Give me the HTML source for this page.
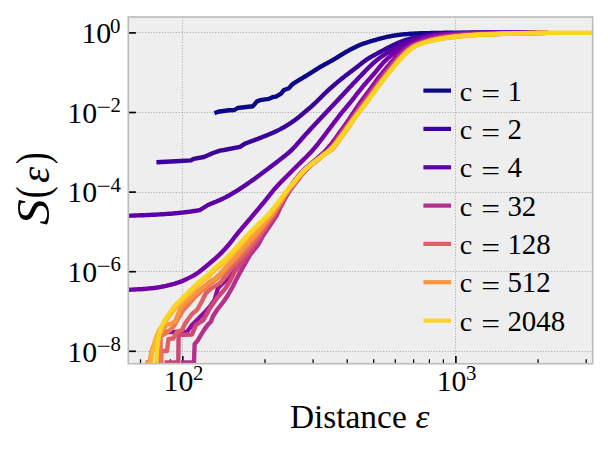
<!DOCTYPE html>
<html><head><meta charset="utf-8"><title>S(eps)</title>
<style>
html,body{margin:0;padding:0;background:#fff;}
body{width:608px;height:450px;overflow:hidden;}
svg{display:block;}
text{font-family:"Liberation Serif","DejaVu Serif",serif;fill:#000;}
.it{font-style:italic;}
</style></head><body>
<svg width="608" height="450" viewBox="0 0 608 450">
<rect width="608" height="450" fill="#ffffff"/>
<rect x="128.3" y="17.0" width="464.40000000000003" height="346.7" fill="#eeeeee"/>
<defs><clipPath id="ax"><rect x="128.3" y="17.0" width="464.40000000000003" height="346.7"/></clipPath></defs>
<g stroke="#a8a8a8" stroke-width="1.0" stroke-dasharray="1.05 1.75" fill="none"><line x1="182.5" y1="17.0" x2="182.5" y2="363.7"/><line x1="455.5" y1="17.0" x2="455.5" y2="363.7"/><line x1="128.3" y1="32.5" x2="592.7" y2="32.5"/><line x1="128.3" y1="112.5" x2="592.7" y2="112.5"/><line x1="128.3" y1="192.5" x2="592.7" y2="192.5"/><line x1="128.3" y1="271.5" x2="592.7" y2="271.5"/><line x1="128.3" y1="351.5" x2="592.7" y2="351.5"/></g>
<g stroke="#000" stroke-width="1.65"><line x1="128.3" y1="32.9" x2="135.9" y2="32.9"/><line x1="128.3" y1="112.5" x2="135.9" y2="112.5"/><line x1="128.3" y1="192.1" x2="135.9" y2="192.1"/><line x1="128.3" y1="271.7" x2="135.9" y2="271.7"/><line x1="128.3" y1="351.3" x2="135.9" y2="351.3"/><line x1="182.8" y1="363.7" x2="182.8" y2="356.09999999999997"/><line x1="455.9" y1="363.7" x2="455.9" y2="356.09999999999997"/></g>
<g stroke="#000" stroke-width="1.25"><line x1="140.5" y1="363.7" x2="140.5" y2="359.3"/><line x1="156.3" y1="363.7" x2="156.3" y2="359.3"/><line x1="170.3" y1="363.7" x2="170.3" y2="359.3"/><line x1="265.0" y1="363.7" x2="265.0" y2="359.3"/><line x1="313.1" y1="363.7" x2="313.1" y2="359.3"/><line x1="347.2" y1="363.7" x2="347.2" y2="359.3"/><line x1="373.7" y1="363.7" x2="373.7" y2="359.3"/><line x1="395.3" y1="363.7" x2="395.3" y2="359.3"/><line x1="413.6" y1="363.7" x2="413.6" y2="359.3"/><line x1="429.4" y1="363.7" x2="429.4" y2="359.3"/><line x1="443.4" y1="363.7" x2="443.4" y2="359.3"/><line x1="538.1" y1="363.7" x2="538.1" y2="359.3"/><line x1="586.2" y1="363.7" x2="586.2" y2="359.3"/></g>
<g clip-path="url(#ax)" fill="none" stroke-width="4.4" stroke-linejoin="round" stroke-linecap="butt">
<path d="M214.4,113.2 L218.0,111.8 L229.0,110.2 L234.4,110.0 L237.6,108.0 L244.0,107.2 L253.0,106.2 L257.0,101.4 L260.0,100.2 L269.0,98.8 L273.0,97.0 L276.0,96.6 L281.0,93.6 L284.0,90.0 L289.0,88.2 L292.0,84.6 L293.0,83.9 L294.0,83.2 L295.0,82.6 L296.0,81.9 L297.0,81.3 L298.0,80.7 L299.0,80.1 L300.0,79.5 L301.0,78.9 L302.0,78.3 L303.0,77.7 L304.0,77.1 L305.0,76.5 L306.0,75.9 L307.0,75.3 L308.0,74.7 L309.0,74.0 L310.0,73.4 L311.0,72.8 L312.0,72.2 L313.0,71.5 L314.0,70.9 L315.0,70.2 L316.0,69.6 L317.0,69.0 L318.0,68.3 L319.0,67.7 L320.0,67.1 L321.0,66.5 L322.0,66.0 L323.0,65.4 L324.0,64.8 L325.0,64.3 L326.0,63.8 L327.0,63.2 L328.0,62.7 L329.0,62.1 L330.0,61.6 L331.0,61.0 L332.0,60.5 L333.0,59.9 L334.0,59.3 L335.0,58.7 L336.0,58.1 L337.0,57.5 L338.0,56.9 L339.0,56.2 L340.0,55.6 L341.0,55.0 L342.0,54.4 L343.0,53.8 L344.0,53.2 L345.0,52.6 L346.0,52.0 L347.0,51.4 L348.0,50.9 L349.0,50.3 L350.0,49.7 L351.0,49.2 L352.0,48.7 L353.0,48.2 L354.0,47.7 L355.0,47.2 L356.0,46.7 L357.0,46.2 L358.0,45.8 L359.0,45.4 L360.0,44.9 L361.0,44.5 L362.0,44.2 L363.0,43.8 L364.0,43.4 L365.0,43.1 L366.0,42.8 L367.0,42.5 L368.0,42.1 L369.0,41.8 L370.0,41.5 L371.0,41.2 L372.0,40.9 L373.0,40.7 L374.0,40.4 L375.0,40.1 L376.0,39.8 L377.0,39.5 L378.0,39.2 L379.0,39.0 L380.0,38.7 L381.0,38.4 L382.0,38.1 L383.0,37.9 L384.0,37.6 L385.0,37.4 L386.0,37.1 L387.0,36.9 L388.0,36.7 L389.0,36.5 L390.0,36.3 L391.0,36.1 L392.0,35.9 L393.0,35.7 L394.0,35.6 L395.0,35.4 L396.0,35.3 L397.0,35.1 L398.0,35.0 L399.0,34.9 L400.0,34.7 L401.0,34.6 L402.0,34.5 L403.0,34.4 L404.0,34.3 L405.0,34.2 L406.0,34.1 L407.0,34.1 L408.0,34.0 L409.0,33.9 L410.0,33.8 L411.0,33.8 L412.0,33.7 L413.0,33.6 L414.0,33.6 L415.0,33.5 L416.0,33.5 L417.0,33.4 L418.0,33.4 L419.0,33.4 L420.0,33.3 L421.0,33.3 L422.0,33.3 L423.0,33.2 L424.0,33.2 L425.0,33.2 L426.0,33.2 L427.0,33.1 L428.0,33.1 L429.0,33.1 L430.0,33.1 L431.0,33.0 L432.0,33.0 L433.0,33.0 L434.0,33.0 L435.0,33.0 L436.0,33.0 L437.0,32.9 L438.0,32.9 L439.0,32.9 L440.0,32.9 L441.0,32.9 L442.0,32.9 L443.0,32.9 L444.0,32.8 L445.0,32.8 L446.0,32.8 L447.0,32.8 L448.0,32.8 L449.0,32.8 L450.0,32.8 L451.0,32.8 L452.0,32.8 L453.0,32.7 L454.0,32.7 L455.0,32.7 L456.0,32.7 L457.0,32.7 L458.0,32.7 L459.0,32.7 L460.0,32.7 L461.0,32.7 L462.0,32.7 L463.0,32.7 L464.0,32.7 L465.0,32.7 L466.0,32.7 L467.0,32.7 L468.0,32.7 L469.0,32.7 L470.0,32.7 L471.0,32.7 L472.0,32.7 L473.0,32.7 L474.0,32.7 L475.0,32.7 L476.0,32.7 L477.0,32.7 L478.0,32.7 L479.0,32.7 L480.0,32.7 L481.0,32.7 L482.0,32.7 L483.0,32.7 L484.0,32.7 L485.0,32.7 L486.0,32.7 L487.0,32.7 L488.0,32.7 L489.0,32.7 L490.0,32.7 L491.0,32.7 L492.0,32.7 L493.0,32.7 L494.0,32.7 L495.0,32.7 L496.0,32.7 L497.0,32.7 L498.0,32.7 L499.0,32.7 L500.0,32.7 L501.0,32.7 L502.0,32.7 L503.0,32.7 L504.0,32.7 L505.0,32.7 L506.0,32.7 L507.0,32.7 L508.0,32.7 L509.0,32.7 L510.0,32.7 L511.0,32.7 L512.0,32.7 L513.0,32.7 L514.0,32.7 L515.0,32.7 L516.0,32.7 L517.0,32.7 L518.0,32.7 L519.0,32.7 L520.0,32.7 L521.0,32.7 L522.0,32.7 L523.0,32.7 L524.0,32.7 L525.0,32.7 L526.0,32.7 L527.0,32.7 L528.0,32.7 L529.0,32.7 L530.0,32.7 L531.0,32.7 L532.0,32.7 L533.0,32.7 L534.0,32.7 L535.0,32.7 L536.0,32.7 L537.0,32.7 L538.0,32.7 L539.0,32.7 L540.0,32.7 L541.0,32.7 L542.0,32.7 L543.0,32.7 L544.0,32.7 L545.0,32.7 L546.0,32.7 L547.0,32.7 L548.0,32.7" stroke="#0d0887"/>
<path d="M156.4,162.2 L176.0,161.2 L191.0,160.4 L193.6,158.8 L204.0,157.0 L213.0,153.0 L220.0,150.6 L224.0,150.0 L240.0,146.8 L245.0,143.6 L246.0,143.2 L247.0,142.8 L248.0,142.5 L249.0,142.1 L250.0,141.7 L251.0,141.4 L252.0,141.0 L253.0,140.6 L254.0,140.3 L255.0,139.9 L256.0,139.5 L257.0,139.1 L258.0,138.8 L259.0,138.4 L260.0,138.0 L261.0,137.6 L262.0,137.2 L263.0,136.8 L264.0,136.4 L265.0,136.0 L266.0,135.6 L267.0,135.2 L268.0,134.8 L269.0,134.4 L270.0,134.0 L271.0,133.5 L272.0,133.1 L273.0,132.7 L274.0,132.2 L275.0,131.8 L276.0,131.3 L277.0,130.9 L278.0,130.4 L279.0,129.9 L280.0,129.4 L281.0,128.8 L282.0,128.3 L283.0,127.7 L284.0,127.2 L285.0,126.6 L286.0,126.0 L287.0,125.3 L288.0,124.7 L289.0,124.1 L290.0,123.4 L291.0,122.8 L292.0,122.1 L293.0,121.4 L294.0,120.7 L295.0,120.0 L296.0,119.2 L297.0,118.5 L298.0,117.7 L299.0,116.9 L300.0,116.1 L301.0,115.3 L302.0,114.4 L303.0,113.6 L304.0,112.7 L305.0,111.9 L306.0,111.0 L307.0,110.2 L308.0,109.3 L309.0,108.5 L310.0,107.7 L311.0,106.8 L312.0,105.9 L313.0,105.0 L314.0,104.1 L315.0,103.2 L316.0,102.2 L317.0,101.2 L318.0,100.2 L319.0,99.2 L320.0,98.2 L321.0,97.2 L322.0,96.2 L323.0,95.2 L324.0,94.2 L325.0,93.3 L326.0,92.3 L327.0,91.4 L328.0,90.5 L329.0,89.5 L330.0,88.6 L331.0,87.8 L332.0,86.9 L333.0,86.0 L334.0,85.1 L335.0,84.3 L336.0,83.4 L337.0,82.6 L338.0,81.7 L339.0,80.9 L340.0,80.1 L341.0,79.3 L342.0,78.5 L343.0,77.7 L344.0,76.9 L345.0,76.1 L346.0,75.3 L347.0,74.6 L348.0,73.8 L349.0,73.1 L350.0,72.3 L351.0,71.6 L352.0,70.8 L353.0,70.1 L354.0,69.3 L355.0,68.5 L356.0,67.8 L357.0,67.0 L358.0,66.2 L359.0,65.4 L360.0,64.6 L361.0,63.8 L362.0,63.1 L363.0,62.3 L364.0,61.5 L365.0,60.8 L366.0,60.1 L367.0,59.4 L368.0,58.7 L369.0,58.1 L370.0,57.5 L371.0,56.9 L372.0,56.3 L373.0,55.7 L374.0,55.2 L375.0,54.7 L376.0,54.1 L377.0,53.6 L378.0,53.0 L379.0,52.5 L380.0,52.0 L381.0,51.5 L382.0,50.9 L383.0,50.4 L384.0,49.9 L385.0,49.3 L386.0,48.8 L387.0,48.3 L388.0,47.7 L389.0,47.2 L390.0,46.7 L391.0,46.2 L392.0,45.7 L393.0,45.2 L394.0,44.7 L395.0,44.3 L396.0,43.8 L397.0,43.4 L398.0,42.9 L399.0,42.5 L400.0,42.1 L401.0,41.7 L402.0,41.3 L403.0,40.9 L404.0,40.6 L405.0,40.2 L406.0,39.9 L407.0,39.6 L408.0,39.3 L409.0,39.0 L410.0,38.7 L411.0,38.4 L412.0,38.2 L413.0,37.9 L414.0,37.7 L415.0,37.4 L416.0,37.2 L417.0,37.0 L418.0,36.8 L419.0,36.6 L420.0,36.4 L421.0,36.2 L422.0,36.0 L423.0,35.9 L424.0,35.7 L425.0,35.6 L426.0,35.4 L427.0,35.3 L428.0,35.2 L429.0,35.0 L430.0,34.9 L431.0,34.8 L432.0,34.7 L433.0,34.6 L434.0,34.5 L435.0,34.4 L436.0,34.3 L437.0,34.2 L438.0,34.2 L439.0,34.1 L440.0,34.0 L441.0,34.0 L442.0,33.9 L443.0,33.8 L444.0,33.8 L445.0,33.7 L446.0,33.7 L447.0,33.6 L448.0,33.6 L449.0,33.5 L450.0,33.5 L451.0,33.4 L452.0,33.4 L453.0,33.3 L454.0,33.3 L455.0,33.3 L456.0,33.2 L457.0,33.2 L458.0,33.2 L459.0,33.1 L460.0,33.1 L461.0,33.1 L462.0,33.0 L463.0,33.0 L464.0,33.0 L465.0,33.0 L466.0,32.9 L467.0,32.9 L468.0,32.9 L469.0,32.9 L470.0,32.8 L471.0,32.8 L472.0,32.8 L473.0,32.8 L474.0,32.8 L475.0,32.8 L476.0,32.7 L477.0,32.7 L478.0,32.7 L479.0,32.7 L480.0,32.7 L481.0,32.7 L482.0,32.7 L483.0,32.7 L484.0,32.7 L485.0,32.7 L486.0,32.7 L487.0,32.7 L488.0,32.7 L489.0,32.7 L490.0,32.7 L491.0,32.7 L492.0,32.7 L493.0,32.7 L494.0,32.7 L495.0,32.7 L496.0,32.7 L497.0,32.7 L498.0,32.7 L499.0,32.7 L500.0,32.7 L501.0,32.7 L502.0,32.7 L503.0,32.7 L504.0,32.7 L505.0,32.7 L506.0,32.7 L507.0,32.7 L508.0,32.7 L509.0,32.7 L510.0,32.7 L511.0,32.7 L512.0,32.7 L513.0,32.7 L514.0,32.7 L515.0,32.7 L516.0,32.7 L517.0,32.7 L518.0,32.7 L519.0,32.7 L520.0,32.7 L521.0,32.7 L522.0,32.7 L523.0,32.7 L524.0,32.7 L525.0,32.7 L526.0,32.7 L527.0,32.7 L528.0,32.7 L529.0,32.7 L530.0,32.7 L531.0,32.7 L532.0,32.7 L533.0,32.7 L534.0,32.7 L535.0,32.7 L536.0,32.7 L537.0,32.7 L538.0,32.7 L539.0,32.7 L540.0,32.7 L541.0,32.7 L542.0,32.7 L543.0,32.7 L544.0,32.7 L545.0,32.7 L546.0,32.7 L547.0,32.7 L548.0,32.7" stroke="#3a049a"/>
<path d="M127.0,215.7 L128.0,215.7 L129.0,215.7 L130.0,215.6 L131.0,215.6 L132.0,215.6 L133.0,215.6 L134.0,215.5 L135.0,215.5 L136.0,215.5 L137.0,215.4 L138.0,215.4 L139.0,215.4 L140.0,215.3 L141.0,215.3 L142.0,215.3 L143.0,215.2 L144.0,215.2 L145.0,215.1 L146.0,215.1 L147.0,215.0 L148.0,215.0 L149.0,215.0 L150.0,214.9 L151.0,214.9 L152.0,214.8 L153.0,214.8 L154.0,214.7 L155.0,214.7 L156.0,214.6 L157.0,214.6 L158.0,214.5 L159.0,214.4 L160.0,214.4 L161.0,214.3 L162.0,214.3 L163.0,214.2 L164.0,214.1 L165.0,214.1 L166.0,214.0 L167.0,213.9 L168.0,213.9 L169.0,213.8 L170.0,213.7 L171.0,213.7 L172.0,213.6 L173.0,213.5 L174.0,213.4 L175.0,213.3 L176.0,213.2 L177.0,213.1 L178.0,213.0 L179.0,212.9 L180.0,212.8 L181.0,212.7 L182.0,212.6 L183.0,212.5 L184.0,212.4 L185.0,212.3 L186.0,212.2 L187.0,212.0 L188.0,211.9 L189.0,211.8 L190.0,211.6 L191.0,211.5 L192.0,211.3 L193.0,211.2 L194.0,211.0 L195.0,210.9 L196.0,210.7 L197.0,210.6 L198.0,210.4 L199.0,210.2 L200.0,210.0 L208.0,205.0 L209.0,204.6 L210.0,204.1 L211.0,203.7 L212.0,203.3 L213.0,202.9 L214.0,202.5 L215.0,202.1 L216.0,201.7 L217.0,201.3 L218.0,200.8 L219.0,200.4 L220.0,200.0 L221.0,199.5 L222.0,199.0 L223.0,198.6 L224.0,198.1 L225.0,197.6 L226.0,197.1 L227.0,196.5 L228.0,196.0 L229.0,195.5 L230.0,194.9 L231.0,194.3 L232.0,193.7 L233.0,193.1 L234.0,192.5 L235.0,191.9 L236.0,191.3 L237.0,190.7 L238.0,190.1 L239.0,189.4 L240.0,188.8 L241.0,188.1 L242.0,187.5 L243.0,186.8 L244.0,186.1 L245.0,185.5 L246.0,184.8 L247.0,184.1 L248.0,183.4 L249.0,182.7 L250.0,182.0 L251.0,181.3 L252.0,180.6 L253.0,179.9 L254.0,179.2 L255.0,178.5 L256.0,177.7 L257.0,177.0 L258.0,176.3 L259.0,175.5 L260.0,174.8 L261.0,174.0 L262.0,173.3 L263.0,172.5 L264.0,171.8 L265.0,171.0 L266.0,170.3 L267.0,169.5 L268.0,168.8 L269.0,168.0 L270.0,167.3 L271.0,166.5 L272.0,165.7 L273.0,165.0 L274.0,164.2 L275.0,163.5 L276.0,162.7 L277.0,161.9 L278.0,161.2 L279.0,160.4 L280.0,159.6 L281.0,158.9 L282.0,158.1 L283.0,157.3 L284.0,156.5 L285.0,155.8 L286.0,154.9 L287.0,154.1 L288.0,153.3 L289.0,152.4 L290.0,151.5 L291.0,150.6 L292.0,149.6 L293.0,148.6 L294.0,147.5 L295.0,146.5 L296.0,145.4 L297.0,144.2 L298.0,143.1 L299.0,142.0 L300.0,140.8 L301.0,139.7 L302.0,138.5 L303.0,137.4 L304.0,136.3 L305.0,135.2 L306.0,134.1 L307.0,133.0 L308.0,131.9 L309.0,130.8 L310.0,129.7 L311.0,128.6 L312.0,127.6 L313.0,126.5 L314.0,125.4 L315.0,124.3 L316.0,123.3 L317.0,122.2 L318.0,121.1 L319.0,120.1 L320.0,119.0 L321.0,117.9 L322.0,116.9 L323.0,115.8 L324.0,114.8 L325.0,113.7 L326.0,112.6 L327.0,111.6 L328.0,110.5 L329.0,109.4 L330.0,108.4 L331.0,107.3 L332.0,106.3 L333.0,105.2 L334.0,104.1 L335.0,103.1 L336.0,102.0 L337.0,100.9 L338.0,99.9 L339.0,98.8 L340.0,97.7 L341.0,96.6 L342.0,95.6 L343.0,94.5 L344.0,93.4 L345.0,92.3 L346.0,91.3 L347.0,90.2 L348.0,89.1 L349.0,88.1 L350.0,87.0 L351.0,86.0 L352.0,84.9 L353.0,83.8 L354.0,82.8 L355.0,81.7 L356.0,80.7 L357.0,79.6 L358.0,78.6 L359.0,77.5 L360.0,76.5 L361.0,75.5 L362.0,74.4 L363.0,73.4 L364.0,72.4 L365.0,71.3 L366.0,70.3 L367.0,69.3 L368.0,68.3 L369.0,67.3 L370.0,66.3 L371.0,65.3 L372.0,64.4 L373.0,63.4 L374.0,62.5 L375.0,61.7 L376.0,60.8 L377.0,60.0 L378.0,59.2 L379.0,58.4 L380.0,57.7 L381.0,57.0 L382.0,56.3 L383.0,55.6 L384.0,55.0 L385.0,54.3 L386.0,53.7 L387.0,53.1 L388.0,52.5 L389.0,51.9 L390.0,51.3 L391.0,50.7 L392.0,50.1 L393.0,49.5 L394.0,49.0 L395.0,48.4 L396.0,47.9 L397.0,47.3 L398.0,46.8 L399.0,46.3 L400.0,45.7 L401.0,45.2 L402.0,44.7 L403.0,44.2 L404.0,43.8 L405.0,43.3 L406.0,42.8 L407.0,42.4 L408.0,41.9 L409.0,41.5 L410.0,41.1 L411.0,40.7 L412.0,40.4 L413.0,40.0 L414.0,39.6 L415.0,39.3 L416.0,39.0 L417.0,38.7 L418.0,38.4 L419.0,38.1 L420.0,37.8 L421.0,37.5 L422.0,37.3 L423.0,37.0 L424.0,36.8 L425.0,36.6 L426.0,36.4 L427.0,36.2 L428.0,36.0 L429.0,35.8 L430.0,35.7 L431.0,35.5 L432.0,35.4 L433.0,35.2 L434.0,35.1 L435.0,35.0 L436.0,34.9 L437.0,34.7 L438.0,34.6 L439.0,34.5 L440.0,34.4 L441.0,34.4 L442.0,34.3 L443.0,34.2 L444.0,34.1 L445.0,34.1 L446.0,34.0 L447.0,33.9 L448.0,33.9 L449.0,33.8 L450.0,33.7 L451.0,33.7 L452.0,33.6 L453.0,33.6 L454.0,33.5 L455.0,33.5 L456.0,33.5 L457.0,33.4 L458.0,33.4 L459.0,33.3 L460.0,33.3 L461.0,33.3 L462.0,33.3 L463.0,33.2 L464.0,33.2 L465.0,33.2 L466.0,33.2 L467.0,33.1 L468.0,33.1 L469.0,33.1 L470.0,33.1 L471.0,33.0 L472.0,33.0 L473.0,33.0 L474.0,33.0 L475.0,33.0 L476.0,33.0 L477.0,32.9 L478.0,32.9 L479.0,32.9 L480.0,32.9 L481.0,32.9 L482.0,32.9 L483.0,32.9 L484.0,32.8 L485.0,32.8 L486.0,32.8 L487.0,32.8 L488.0,32.8 L489.0,32.8 L490.0,32.8 L491.0,32.8 L492.0,32.8 L493.0,32.7 L494.0,32.7 L495.0,32.7 L496.0,32.7 L497.0,32.7 L498.0,32.7 L499.0,32.7 L500.0,32.7 L501.0,32.7 L502.0,32.7 L503.0,32.7 L504.0,32.7 L505.0,32.7 L506.0,32.7 L507.0,32.7 L508.0,32.7 L509.0,32.7 L510.0,32.7 L511.0,32.7 L512.0,32.7 L513.0,32.7 L514.0,32.7 L515.0,32.7 L516.0,32.7 L517.0,32.7 L518.0,32.7 L519.0,32.7 L520.0,32.7 L521.0,32.7 L522.0,32.7 L523.0,32.7 L524.0,32.7 L525.0,32.7 L526.0,32.7 L527.0,32.7 L528.0,32.7 L529.0,32.7 L530.0,32.7 L531.0,32.7 L532.0,32.7 L533.0,32.7 L534.0,32.7 L535.0,32.7 L536.0,32.7 L537.0,32.7 L538.0,32.7 L539.0,32.7 L540.0,32.7 L541.0,32.7 L542.0,32.7 L543.0,32.7 L544.0,32.7 L545.0,32.7 L546.0,32.7 L547.0,32.7 L548.0,32.7" stroke="#5c01a6"/>
<path d="M127.0,289.7 L128.0,289.7 L129.0,289.7 L130.0,289.7 L131.0,289.6 L132.0,289.6 L133.0,289.6 L134.0,289.5 L135.0,289.5 L136.0,289.4 L137.0,289.4 L138.0,289.3 L139.0,289.3 L140.0,289.2 L141.0,289.2 L142.0,289.1 L143.0,289.0 L144.0,289.0 L145.0,288.9 L146.0,288.8 L147.0,288.7 L148.0,288.6 L149.0,288.5 L150.0,288.4 L151.0,288.3 L152.0,288.2 L153.0,288.1 L154.0,288.0 L155.0,287.9 L156.0,287.7 L157.0,287.6 L158.0,287.4 L159.0,287.2 L160.0,287.1 L161.0,286.9 L162.0,286.7 L163.0,286.5 L164.0,286.3 L165.0,286.1 L166.0,285.9 L167.0,285.6 L168.0,285.4 L169.0,285.2 L170.0,284.9 L171.0,284.7 L172.0,284.4 L173.0,284.1 L174.0,283.9 L175.0,283.6 L176.0,283.2 L177.0,282.9 L178.0,282.6 L179.0,282.2 L180.0,281.9 L181.0,281.5 L182.0,281.1 L183.0,280.7 L184.0,280.2 L185.0,279.8 L186.0,279.4 L187.0,278.9 L188.0,278.4 L189.0,277.9 L190.0,277.4 L191.0,276.9 L192.0,276.4 L193.0,275.9 L194.0,275.3 L195.0,274.7 L196.0,274.0 L197.0,273.4 L198.0,272.7 L199.0,272.0 L200.0,271.2 L201.0,270.4 L202.0,269.6 L203.0,268.8 L204.0,268.0 L205.0,267.2 L206.0,266.4 L207.0,265.5 L208.0,264.7 L209.0,263.9 L210.0,263.0 L211.0,262.2 L212.0,261.3 L213.0,260.5 L214.0,259.6 L215.0,258.8 L216.0,257.9 L217.0,257.0 L218.0,256.0 L219.0,255.1 L220.0,254.1 L221.0,253.1 L222.0,252.1 L223.0,251.1 L224.0,250.0 L225.0,248.9 L226.0,247.8 L227.0,246.7 L228.0,245.6 L229.0,244.4 L230.0,243.2 L231.0,241.9 L232.0,240.6 L233.0,239.3 L234.0,238.0 L235.0,236.7 L236.0,235.5 L237.0,234.2 L238.0,233.0 L239.0,231.7 L240.0,230.5 L241.0,229.4 L242.0,228.2 L243.0,227.0 L244.0,225.8 L245.0,224.7 L246.0,223.5 L247.0,222.3 L248.0,221.2 L249.0,220.0 L250.0,218.8 L251.0,217.6 L252.0,216.4 L253.0,215.2 L254.0,214.1 L255.0,212.9 L256.0,211.7 L257.0,210.5 L258.0,209.3 L259.0,208.1 L260.0,206.9 L261.0,205.7 L262.0,204.5 L263.0,203.3 L264.0,202.1 L265.0,200.8 L266.0,199.6 L267.0,198.3 L268.0,197.1 L269.0,195.8 L270.0,194.6 L271.0,193.3 L272.0,192.1 L273.0,190.9 L274.0,189.7 L275.0,188.5 L276.0,187.4 L277.0,186.3 L278.0,185.2 L279.0,184.1 L280.0,183.1 L281.0,182.0 L282.0,181.0 L283.0,180.0 L284.0,179.0 L285.0,178.0 L286.0,177.0 L287.0,176.0 L288.0,175.0 L289.0,174.0 L290.0,173.0 L291.0,172.0 L292.0,171.0 L293.0,170.0 L294.0,169.0 L295.0,168.0 L296.0,167.0 L297.0,166.0 L298.0,165.0 L299.0,164.0 L300.0,163.1 L301.0,162.1 L302.0,161.1 L303.0,160.1 L304.0,159.1 L305.0,158.2 L306.0,157.2 L307.0,156.2 L308.0,155.1 L309.0,154.1 L310.0,153.1 L311.0,152.0 L312.0,150.9 L313.0,149.8 L314.0,148.6 L315.0,147.4 L316.0,146.3 L317.0,145.0 L318.0,143.8 L319.0,142.5 L320.0,141.2 L321.0,139.9 L322.0,138.6 L323.0,137.3 L324.0,136.0 L325.0,134.7 L326.0,133.3 L327.0,132.0 L328.0,130.7 L329.0,129.3 L330.0,128.0 L331.0,126.7 L332.0,125.3 L333.0,124.0 L334.0,122.7 L335.0,121.4 L336.0,120.1 L337.0,118.8 L338.0,117.5 L339.0,116.2 L340.0,114.9 L341.0,113.6 L342.0,112.4 L343.0,111.2 L344.0,110.0 L345.0,108.8 L346.0,107.6 L347.0,106.4 L348.0,105.2 L349.0,104.0 L350.0,102.8 L351.0,101.5 L352.0,100.3 L353.0,99.0 L354.0,97.8 L355.0,96.5 L356.0,95.2 L357.0,93.9 L358.0,92.6 L359.0,91.4 L360.0,90.1 L361.0,88.9 L362.0,87.6 L363.0,86.4 L364.0,85.2 L365.0,84.0 L366.0,82.9 L367.0,81.7 L368.0,80.6 L369.0,79.5 L370.0,78.4 L371.0,77.2 L372.0,76.1 L373.0,74.9 L374.0,73.8 L375.0,72.6 L376.0,71.4 L377.0,70.1 L378.0,68.9 L379.0,67.7 L380.0,66.5 L381.0,65.3 L382.0,64.2 L383.0,63.1 L384.0,62.0 L385.0,61.0 L386.0,60.0 L387.0,59.1 L388.0,58.2 L389.0,57.3 L390.0,56.4 L391.0,55.6 L392.0,54.8 L393.0,54.0 L394.0,53.3 L395.0,52.5 L396.0,51.8 L397.0,51.1 L398.0,50.4 L399.0,49.8 L400.0,49.1 L401.0,48.5 L402.0,47.9 L403.0,47.3 L404.0,46.7 L405.0,46.2 L406.0,45.6 L407.0,45.1 L408.0,44.6 L409.0,44.1 L410.0,43.6 L411.0,43.1 L412.0,42.6 L413.0,42.2 L414.0,41.7 L415.0,41.3 L416.0,40.8 L417.0,40.4 L418.0,40.0 L419.0,39.6 L420.0,39.2 L421.0,38.9 L422.0,38.5 L423.0,38.2 L424.0,37.9 L425.0,37.6 L426.0,37.4 L427.0,37.1 L428.0,36.9 L429.0,36.7 L430.0,36.4 L431.0,36.2 L432.0,36.0 L433.0,35.9 L434.0,35.7 L435.0,35.5 L436.0,35.4 L437.0,35.2 L438.0,35.1 L439.0,35.0 L440.0,34.9 L441.0,34.7 L442.0,34.6 L443.0,34.5 L444.0,34.4 L445.0,34.4 L446.0,34.3 L447.0,34.2 L448.0,34.1 L449.0,34.0 L450.0,34.0 L451.0,33.9 L452.0,33.8 L453.0,33.8 L454.0,33.7 L455.0,33.7 L456.0,33.6 L457.0,33.5 L458.0,33.5 L459.0,33.5 L460.0,33.4 L461.0,33.4 L462.0,33.3 L463.0,33.3 L464.0,33.3 L465.0,33.2 L466.0,33.2 L467.0,33.2 L468.0,33.2 L469.0,33.1 L470.0,33.1 L471.0,33.1 L472.0,33.1 L473.0,33.0 L474.0,33.0 L475.0,33.0 L476.0,33.0 L477.0,33.0 L478.0,32.9 L479.0,32.9 L480.0,32.9 L481.0,32.9 L482.0,32.9 L483.0,32.9 L484.0,32.8 L485.0,32.8 L486.0,32.8 L487.0,32.8 L488.0,32.8 L489.0,32.8 L490.0,32.8 L491.0,32.8 L492.0,32.7 L493.0,32.7 L494.0,32.7 L495.0,32.7 L496.0,32.7 L497.0,32.7 L498.0,32.7 L499.0,32.7 L500.0,32.7 L501.0,32.7 L502.0,32.7 L503.0,32.7 L504.0,32.7 L505.0,32.7 L506.0,32.7 L507.0,32.7 L508.0,32.7 L509.0,32.7 L510.0,32.7 L511.0,32.7 L512.0,32.7 L513.0,32.7 L514.0,32.7 L515.0,32.7 L516.0,32.7 L517.0,32.7 L518.0,32.7 L519.0,32.7 L520.0,32.7 L521.0,32.7 L522.0,32.7 L523.0,32.7 L524.0,32.7 L525.0,32.7 L526.0,32.7 L527.0,32.7 L528.0,32.7 L529.0,32.7 L530.0,32.7 L531.0,32.7 L532.0,32.7 L533.0,32.7 L534.0,32.7 L535.0,32.7 L536.0,32.7 L537.0,32.7 L538.0,32.7 L539.0,32.7 L540.0,32.7 L541.0,32.7 L542.0,32.7 L543.0,32.7 L544.0,32.7 L545.0,32.7 L546.0,32.7 L547.0,32.7 L548.0,32.7" stroke="#7201a8"/>
<path d="M160.0,366.0 L160.2,332.0 L187.0,332.0 L192.0,325.0 L197.0,320.0 L205.0,312.0 L210.0,306.5 L214.5,300.0 L218.0,288.0 L224.0,282.0 L227.0,279.5 L240.0,261.0 L243.0,256.5 L244.0,255.0 L245.0,253.6 L246.0,252.2 L247.0,250.9 L248.0,249.6 L249.0,248.3 L250.0,246.9 L251.0,245.6 L252.0,244.2 L253.0,242.9 L254.0,241.5 L255.0,240.1 L256.0,238.7 L257.0,237.3 L258.0,235.9 L259.0,234.5 L260.0,233.1 L261.0,231.7 L262.0,230.3 L263.0,228.9 L264.0,227.5 L265.0,226.1 L266.0,224.7 L267.0,223.3 L268.0,221.9 L269.0,220.5 L270.0,219.1 L271.0,217.7 L272.0,216.2 L273.0,214.8 L274.0,213.3 L275.0,211.8 L276.0,210.2 L277.0,208.6 L278.0,207.0 L279.0,205.4 L280.0,203.8 L281.0,202.1 L282.0,200.4 L283.0,198.7 L284.0,197.0 L285.0,195.3 L286.0,193.6 L287.0,192.0 L288.0,190.4 L289.0,188.8 L290.0,187.2 L291.0,185.7 L292.0,184.3 L293.0,182.8 L294.0,181.5 L295.0,180.1 L296.0,178.8 L297.0,177.6 L298.0,176.3 L299.0,175.2 L300.0,174.0 L301.0,172.9 L302.0,171.9 L303.0,170.8 L304.0,169.9 L305.0,168.9 L306.0,168.0 L307.0,167.1 L308.0,166.2 L309.0,165.4 L310.0,164.5 L311.0,163.7 L312.0,162.8 L313.0,162.0 L314.0,161.1 L315.0,160.3 L316.0,159.4 L317.0,158.6 L318.0,157.7 L319.0,156.8 L320.0,155.9 L321.0,155.0 L322.0,154.1 L323.0,153.2 L324.0,152.2 L325.0,151.2 L326.0,150.1 L327.0,149.0 L328.0,147.9 L329.0,146.7 L330.0,145.5 L331.0,144.3 L332.0,143.0 L333.0,141.7 L334.0,140.3 L335.0,139.0 L336.0,137.6 L337.0,136.2 L338.0,134.8 L339.0,133.4 L340.0,132.0 L341.0,130.6 L342.0,129.3 L343.0,127.9 L344.0,126.5 L345.0,125.1 L346.0,123.6 L347.0,122.2 L348.0,120.7 L349.0,119.3 L350.0,117.8 L351.0,116.3 L352.0,114.8 L353.0,113.3 L354.0,111.7 L355.0,110.2 L356.0,108.7 L357.0,107.2 L358.0,105.7 L359.0,104.3 L360.0,102.9 L361.0,101.5 L362.0,100.1 L363.0,98.7 L364.0,97.4 L365.0,96.1 L366.0,94.7 L367.0,93.4 L368.0,92.1 L369.0,90.7 L370.0,89.3 L371.0,88.0 L372.0,86.6 L373.0,85.2 L374.0,83.8 L375.0,82.5 L376.0,81.1 L377.0,79.7 L378.0,78.4 L379.0,77.1 L380.0,75.8 L381.0,74.5 L382.0,73.3 L383.0,72.0 L384.0,70.8 L385.0,69.6 L386.0,68.4 L387.0,67.2 L388.0,66.0 L389.0,64.9 L390.0,63.7 L391.0,62.5 L392.0,61.4 L393.0,60.2 L394.0,59.1 L395.0,58.0 L396.0,56.9 L397.0,55.9 L398.0,54.9 L399.0,53.9 L400.0,53.0 L401.0,52.1 L402.0,51.3 L403.0,50.5 L404.0,49.7 L405.0,49.0 L406.0,48.3 L407.0,47.6 L408.0,46.9 L409.0,46.3 L410.0,45.7 L411.0,45.1 L412.0,44.5 L413.0,43.9 L414.0,43.4 L415.0,42.9 L416.0,42.4 L417.0,41.9 L418.0,41.4 L419.0,40.9 L420.0,40.5 L421.0,40.1 L422.0,39.7 L423.0,39.3 L424.0,39.0 L425.0,38.6 L426.0,38.3 L427.0,38.0 L428.0,37.7 L429.0,37.5 L430.0,37.2 L431.0,37.0 L432.0,36.7 L433.0,36.5 L434.0,36.3 L435.0,36.1 L436.0,35.9 L437.0,35.7 L438.0,35.6 L439.0,35.4 L440.0,35.3 L441.0,35.1 L442.0,35.0 L443.0,34.9 L444.0,34.8 L445.0,34.7 L446.0,34.5 L447.0,34.4 L448.0,34.3 L449.0,34.3 L450.0,34.2 L451.0,34.1 L452.0,34.0 L453.0,33.9 L454.0,33.9 L455.0,33.8 L456.0,33.7 L457.0,33.7 L458.0,33.6 L459.0,33.6 L460.0,33.5 L461.0,33.5 L462.0,33.4 L463.0,33.4 L464.0,33.4 L465.0,33.3 L466.0,33.3 L467.0,33.3 L468.0,33.3 L469.0,33.2 L470.0,33.2 L471.0,33.2 L472.0,33.2 L473.0,33.1 L474.0,33.1 L475.0,33.1 L476.0,33.1 L477.0,33.1 L478.0,33.0 L479.0,33.0 L480.0,33.0 L481.0,33.0 L482.0,33.0 L483.0,32.9 L484.0,32.9 L485.0,32.9 L486.0,32.9 L487.0,32.9 L488.0,32.8 L489.0,32.8 L490.0,32.8 L491.0,32.8 L492.0,32.8 L493.0,32.8 L494.0,32.8 L495.0,32.7 L496.0,32.7 L497.0,32.7 L498.0,32.7 L499.0,32.7 L500.0,32.7 L501.0,32.7 L502.0,32.7 L503.0,32.7 L504.0,32.7 L505.0,32.7 L506.0,32.7 L507.0,32.7 L508.0,32.7 L509.0,32.7 L510.0,32.7 L511.0,32.7 L512.0,32.7 L513.0,32.7 L514.0,32.7 L515.0,32.7 L516.0,32.7 L517.0,32.7 L518.0,32.7 L519.0,32.7 L520.0,32.7 L521.0,32.7 L522.0,32.7 L523.0,32.7 L524.0,32.7 L525.0,32.7 L526.0,32.7 L527.0,32.7 L528.0,32.7 L529.0,32.7 L530.0,32.7 L531.0,32.7 L532.0,32.7 L533.0,32.7 L534.0,32.7 L535.0,32.7 L536.0,32.7 L537.0,32.7 L538.0,32.7 L539.0,32.7 L540.0,32.7 L541.0,32.7 L542.0,32.7 L543.0,32.7 L544.0,32.7 L545.0,32.7 L546.0,32.7 L547.0,32.7 L548.0,32.7" stroke="#8f0da4"/>
<path d="M181.0,362.5 L194.0,362.5 L194.6,344.2 L197.6,340.6 L201.3,334.4 L204.3,329.6 L207.4,325.3 L211.0,321.5 L212.9,316.5 L217.0,310.0 L224.0,301.0 L228.0,295.0 L232.0,288.0 L235.5,281.0 L240.0,272.5 L250.0,255.0 L258.0,245.0 L263.5,235.0 L270.0,225.5 L277.0,215.0 L277.6,213.5 L278.2,212.0 L278.9,210.5 L279.6,209.0 L280.3,207.5 L281.1,206.0 L281.9,204.5 L282.7,203.0 L283.5,201.5 L284.3,200.0 L285.1,198.5 L285.9,197.0 L286.7,195.5 L287.6,194.0 L288.5,192.5 L289.5,191.0 L290.6,189.5 L291.7,188.0 L292.8,186.5 L294.0,185.0 L295.2,183.5 L296.3,182.0 L297.5,180.5 L298.6,179.0 L299.7,177.5 L300.8,176.0 L302.0,174.5 L303.3,173.0 L304.6,171.5 L306.0,170.0 L307.5,168.5 L309.1,167.0 L310.7,165.5 L312.5,164.0 L314.2,162.5 L316.2,161.0 L318.0,159.5 L319.6,158.0 L321.0,156.5 L322.5,155.0 L324.2,153.5 L326.1,152.0 L327.8,150.5 L329.3,149.0 L330.6,147.5 L331.9,146.0 L333.0,144.5 L334.1,143.0 L335.2,141.5 L336.3,140.0 L337.3,138.5 L338.4,137.0 L339.5,135.5 L340.5,134.0 L341.6,132.5 L342.7,131.0 L343.7,129.5 L344.8,128.0 L345.9,126.5 L347.0,125.0 L348.1,123.5 L349.1,122.0 L350.2,120.5 L351.3,119.0 L352.3,117.5 L353.4,116.0 L354.4,114.5 L355.4,113.0 L356.5,111.5 L357.5,110.0 L358.6,108.5 L359.6,107.0 L360.7,105.5 L361.8,104.0 L362.9,102.5 L364.0,101.0 L365.2,99.5 L366.3,98.0 L367.4,96.5 L368.6,95.0 L369.7,93.5 L370.8,92.0 L371.9,90.5 L373.0,89.0 L374.1,87.5 L375.2,86.0 L376.3,84.5 L377.4,83.0 L378.4,81.5 L379.5,80.0 L380.7,78.5 L381.8,77.0 L383.0,75.5 L384.2,74.0 L385.4,72.5 L386.7,71.0 L388.0,69.5 L389.2,68.0 L390.4,66.5 L391.6,65.0 L392.9,63.5 L394.1,62.0 L395.4,60.5 L396.7,59.0 L398.1,57.5 L399.5,56.0 L401.0,54.5 L402.5,53.0 L404.2,51.5 L406.0,50.0 L408.0,48.5 L410.2,47.0 L412.8,45.5 L416.0,44.0 L419.7,42.5 L423.7,41.0 L428.7,39.5 L435.0,38.0 L443.4,36.5 L456.5,35.0 L484.3,33.5 L548.0,32.7" stroke="#b52f8c"/>
<path d="M164.5,362.5 L178.3,362.5 L178.6,335.0 L192.0,334.5 L196.0,325.0 L200.0,322.5 L203.5,320.0 L210.0,308.0 L217.0,298.0 L225.0,289.0 L230.0,281.0 L234.0,273.0 L247.0,255.0 L254.0,245.5 L261.0,235.0 L268.0,225.0 L275.2,215.0 L275.9,213.5 L276.7,212.0 L277.5,210.5 L278.3,209.0 L279.1,207.5 L279.9,206.0 L280.8,204.5 L281.7,203.0 L282.5,201.5 L283.4,200.0 L284.2,198.5 L285.1,197.0 L286.0,195.5 L286.9,194.0 L287.9,192.5 L288.9,191.0 L290.0,189.5 L291.1,188.0 L292.3,186.5 L293.5,185.0 L294.7,183.5 L295.9,182.0 L297.0,180.5 L298.1,179.0 L299.3,177.5 L300.4,176.0 L301.6,174.5 L302.9,173.0 L304.3,171.5 L305.7,170.0 L307.2,168.5 L308.8,167.0 L310.5,165.5 L312.3,164.0 L314.1,162.5 L316.1,161.0 L318.0,159.5 L319.7,158.0 L321.2,156.5 L322.8,155.0 L324.6,153.5 L326.7,152.0 L328.6,150.5 L330.2,149.0 L331.6,147.5 L332.8,146.0 L334.0,144.5 L335.1,143.0 L336.1,141.5 L337.2,140.0 L338.2,138.5 L339.3,137.0 L340.4,135.5 L341.5,134.0 L342.5,132.5 L343.6,131.0 L344.7,129.5 L345.7,128.0 L346.8,126.5 L347.9,125.0 L349.0,123.5 L350.1,122.0 L351.2,120.5 L352.2,119.0 L353.3,117.5 L354.4,116.0 L355.5,114.5 L356.5,113.0 L357.6,111.5 L358.7,110.0 L359.8,108.5 L360.9,107.0 L362.1,105.5 L363.2,104.0 L364.3,102.5 L365.4,101.0 L366.6,99.5 L367.7,98.0 L368.8,96.5 L369.9,95.0 L371.0,93.5 L372.1,92.0 L373.2,90.5 L374.3,89.0 L375.4,87.5 L376.5,86.0 L377.6,84.5 L378.7,83.0 L379.8,81.5 L381.0,80.0 L382.1,78.5 L383.2,77.0 L384.4,75.5 L385.6,74.0 L386.8,72.5 L388.1,71.0 L389.3,69.5 L390.6,68.0 L391.8,66.5 L393.0,65.0 L394.2,63.5 L395.5,62.0 L396.8,60.5 L398.1,59.0 L399.5,57.5 L400.9,56.0 L402.4,54.5 L403.9,53.0 L405.6,51.5 L407.4,50.0 L409.3,48.5 L411.5,47.0 L414.1,45.5 L417.6,44.0 L421.8,42.5 L426.3,41.0 L431.9,39.5 L439.1,38.0 L448.7,36.5 L463.8,35.0 L496.2,33.5 L548.0,32.7" stroke="#cc4778"/>
<path d="M161.2,366.0 L161.3,351.0 L167.0,351.0 L168.5,339.0 L173.0,338.5 L177.0,332.0 L182.0,330.0 L185.0,324.0 L187.5,320.0 L192.0,314.0 L197.0,310.0 L201.0,303.0 L206.0,293.0 L210.5,289.0 L220.0,283.0 L226.0,276.0 L230.0,270.0 L242.2,256.5 L250.0,247.0 L259.0,236.0 L266.7,224.8 L273.5,215.0 L274.4,213.5 L275.3,212.0 L276.2,210.5 L277.1,209.0 L278.0,207.5 L278.9,206.0 L279.8,204.5 L280.7,203.0 L281.7,201.5 L282.6,200.0 L283.5,198.5 L284.4,197.0 L285.3,195.5 L286.3,194.0 L287.3,192.5 L288.3,191.0 L289.4,189.5 L290.6,188.0 L291.8,186.5 L293.0,185.0 L294.3,183.5 L295.5,182.0 L296.6,180.5 L297.8,179.0 L298.9,177.5 L300.1,176.0 L301.3,174.5 L302.6,173.0 L304.0,171.5 L305.5,170.0 L307.0,168.5 L308.6,167.0 L310.3,165.5 L312.1,164.0 L313.9,162.5 L315.9,161.0 L317.9,159.5 L319.7,158.0 L321.3,156.5 L323.0,155.0 L324.8,153.5 L327.0,152.0 L329.2,150.5 L330.8,149.0 L332.2,147.5 L333.4,146.0 L334.6,144.5 L335.7,143.0 L336.7,141.5 L337.8,140.0 L338.8,138.5 L339.9,137.0 L341.0,135.5 L342.1,134.0 L343.2,132.5 L344.2,131.0 L345.3,129.5 L346.3,128.0 L347.4,126.5 L348.5,125.0 L349.6,123.5 L350.7,122.0 L351.8,120.5 L352.9,119.0 L353.9,117.5 L355.0,116.0 L356.1,114.5 L357.2,113.0 L358.3,111.5 L359.5,110.0 L360.6,108.5 L361.8,107.0 L362.9,105.5 L364.1,104.0 L365.2,102.5 L366.3,101.0 L367.4,99.5 L368.6,98.0 L369.7,96.5 L370.8,95.0 L371.9,93.5 L373.0,92.0 L374.1,90.5 L375.1,89.0 L376.2,87.5 L377.3,86.0 L378.5,84.5 L379.6,83.0 L380.7,81.5 L381.9,80.0 L383.0,78.5 L384.2,77.0 L385.3,75.5 L386.5,74.0 L387.8,72.5 L389.0,71.0 L390.2,69.5 L391.4,68.0 L392.7,66.5 L393.9,65.0 L395.1,63.5 L396.4,62.0 L397.7,60.5 L399.0,59.0 L400.4,57.5 L401.8,56.0 L403.3,54.5 L404.8,53.0 L406.4,51.5 L408.2,50.0 L410.2,48.5 L412.4,47.0 L415.0,45.5 L418.7,44.0 L423.2,42.5 L427.9,41.0 L433.9,39.5 L441.7,38.0 L452.1,36.5 L468.4,35.0 L503.7,33.5 L548.0,32.7" stroke="#de5f65"/>
<path d="M160.3,366.0 L160.5,336.0 L165.0,334.0 L170.0,330.0 L174.0,326.0 L178.0,319.0 L183.0,310.5 L188.0,305.0 L195.0,297.0 L201.0,291.3 L207.0,286.3 L213.0,281.8 L222.0,274.3 L226.0,269.5 L238.0,257.0 L249.0,244.7 L257.0,235.0 L265.0,224.5 L272.4,215.0 L273.4,213.5 L274.3,212.0 L275.3,210.5 L276.3,209.0 L277.2,207.5 L278.2,206.0 L279.2,204.5 L280.1,203.0 L281.1,201.5 L282.0,200.0 L283.0,198.5 L283.9,197.0 L284.9,195.5 L285.8,194.0 L286.9,192.5 L288.0,191.0 L289.1,189.5 L290.3,188.0 L291.5,186.5 L292.7,185.0 L294.0,183.5 L295.2,182.0 L296.3,180.5 L297.5,179.0 L298.6,177.5 L299.8,176.0 L301.1,174.5 L302.4,173.0 L303.8,171.5 L305.3,170.0 L306.8,168.5 L308.5,167.0 L310.2,165.5 L312.0,164.0 L313.9,162.5 L315.9,161.0 L317.9,159.5 L319.7,158.0 L321.4,156.5 L323.1,155.0 L325.0,153.5 L327.3,152.0 L329.5,150.5 L331.1,149.0 L332.5,147.5 L333.8,146.0 L335.0,144.5 L336.0,143.0 L337.1,141.5 L338.1,140.0 L339.2,138.5 L340.3,137.0 L341.4,135.5 L342.5,134.0 L343.5,132.5 L344.6,131.0 L345.7,129.5 L346.7,128.0 L347.8,126.5 L348.9,125.0 L349.9,123.5 L351.0,122.0 L352.1,120.5 L353.2,119.0 L354.3,117.5 L355.5,116.0 L356.6,114.5 L357.7,113.0 L358.8,111.5 L360.0,110.0 L361.1,108.5 L362.3,107.0 L363.5,105.5 L364.6,104.0 L365.8,102.5 L366.9,101.0 L368.0,99.5 L369.1,98.0 L370.2,96.5 L371.3,95.0 L372.4,93.5 L373.5,92.0 L374.6,90.5 L375.7,89.0 L376.8,87.5 L377.9,86.0 L379.0,84.5 L380.1,83.0 L381.3,81.5 L382.4,80.0 L383.6,78.5 L384.8,77.0 L385.9,75.5 L387.1,74.0 L388.3,72.5 L389.6,71.0 L390.8,69.5 L392.0,68.0 L393.2,66.5 L394.4,65.0 L395.7,63.5 L397.0,62.0 L398.3,60.5 L399.6,59.0 L401.0,57.5 L402.4,56.0 L403.8,54.5 L405.4,53.0 L407.0,51.5 L408.8,50.0 L410.7,48.5 L412.9,47.0 L415.6,45.5 L419.4,44.0 L424.1,42.5 L429.0,41.0 L435.3,39.5 L443.4,38.0 L454.3,36.5 L471.4,35.0 L508.6,33.5 L548.0,32.7" stroke="#ed7953"/>
<path d="M145.3,362.3 L149.8,362.3 L151.2,352.0 L153.8,345.0 L156.0,338.0 L159.0,333.0 L162.0,331.5 L164.5,328.0 L166.5,324.5 L171.0,324.0 L175.0,321.0 L176.0,319.5 L180.0,309.0 L185.0,302.5 L192.0,297.0 L196.5,292.5 L205.0,285.5 L210.0,281.5 L215.0,278.5 L220.0,274.0 L225.0,268.0 L236.0,256.5 L247.0,244.0 L255.0,235.0 L263.5,225.0 L271.5,215.0 L272.5,213.5 L273.6,212.0 L274.6,210.5 L275.6,209.0 L276.6,207.5 L277.6,206.0 L278.6,204.5 L279.6,203.0 L280.6,201.5 L281.6,200.0 L282.6,198.5 L283.5,197.0 L284.5,195.5 L285.5,194.0 L286.5,192.5 L287.6,191.0 L288.8,189.5 L290.0,188.0 L291.2,186.5 L292.5,185.0 L293.7,183.5 L294.9,182.0 L296.1,180.5 L297.3,179.0 L298.4,177.5 L299.6,176.0 L300.9,174.5 L302.2,173.0 L303.6,171.5 L305.1,170.0 L306.7,168.5 L308.3,167.0 L310.1,165.5 L311.9,164.0 L313.8,162.5 L315.8,161.0 L317.9,159.5 L319.9,158.0 L321.8,156.5 L323.6,155.0 L325.7,153.5 L328.2,152.0 L330.6,150.5 L332.3,149.0 L333.8,147.5 L335.0,146.0 L336.2,144.5 L337.3,143.0 L338.3,141.5 L339.4,140.0 L340.4,138.5 L341.5,137.0 L342.6,135.5 L343.7,134.0 L344.8,132.5 L345.8,131.0 L346.9,129.5 L347.9,128.0 L348.9,126.5 L349.9,125.0 L351.0,123.5 L352.1,122.0 L353.1,120.5 L354.2,119.0 L355.3,117.5 L356.3,116.0 L357.4,114.5 L358.5,113.0 L359.6,111.5 L360.8,110.0 L361.9,108.5 L363.1,107.0 L364.3,105.5 L365.4,104.0 L366.5,102.5 L367.6,101.0 L368.6,99.5 L369.7,98.0 L370.8,96.5 L371.9,95.0 L373.0,93.5 L374.1,92.0 L375.2,90.5 L376.3,89.0 L377.4,87.5 L378.5,86.0 L379.6,84.5 L380.8,83.0 L381.9,81.5 L383.1,80.0 L384.2,78.5 L385.4,77.0 L386.6,75.5 L387.8,74.0 L389.0,72.5 L390.2,71.0 L391.4,69.5 L392.6,68.0 L393.8,66.5 L395.1,65.0 L396.3,63.5 L397.6,62.0 L398.9,60.5 L400.3,59.0 L401.7,57.5 L403.0,56.0 L404.5,54.5 L406.0,53.0 L407.6,51.5 L409.4,50.0 L411.3,48.5 L413.5,47.0 L416.2,45.5 L420.1,44.0 L425.0,42.5 L430.1,41.0 L436.7,39.5 L445.3,38.0 L456.7,36.5 L474.7,35.0 L514.0,33.5 L548.0,32.7" stroke="#f89540"/>
<path d="M150.9,366.0 L151.0,362.0 L152.0,353.0 L154.3,345.0 L156.2,337.0 L158.6,331.0 L162.0,326.0 L166.0,320.8 L176.5,306.1 L184.5,298.1 L191.5,291.1 L196.5,286.6 L199.5,283.4 L209.3,275.6 L215.9,269.0 L226.5,260.1 L237.5,248.6 L249.0,235.6 L257.5,227.1 L269.3,215.0 L270.4,213.5 L271.6,212.0 L272.8,210.5 L273.9,209.0 L275.1,207.5 L276.2,206.0 L277.3,204.5 L278.4,203.0 L279.4,201.5 L280.5,200.0 L281.5,198.5 L282.5,197.0 L283.6,195.5 L284.6,194.0 L285.7,192.5 L286.9,191.0 L288.1,189.5 L289.3,188.0 L290.6,186.5 L291.8,185.0 L293.1,183.5 L294.4,182.0 L295.6,180.5 L296.7,179.0 L297.9,177.5 L299.1,176.0 L300.4,174.5 L301.8,173.0 L303.2,171.5 L304.8,170.0 L306.4,168.5 L308.0,167.0 L309.8,165.5 L311.7,164.0 L313.6,162.5 L315.7,161.0 L317.8,159.5 L319.9,158.0 L321.8,156.5 L323.7,155.0 L325.8,153.5 L328.2,152.0 L330.6,150.5 L332.3,149.0 L333.8,147.5 L335.0,146.0 L336.2,144.5 L337.3,143.0 L338.3,141.5 L339.4,140.0 L340.4,138.5 L341.5,137.0 L342.6,135.5 L343.7,134.0 L344.8,132.5 L345.8,131.0 L346.9,129.5 L347.9,128.0 L348.9,126.5 L349.9,125.0 L351.0,123.5 L352.1,122.0 L353.1,120.5 L354.2,119.0 L355.3,117.5 L356.3,116.0 L357.4,114.5 L358.5,113.0 L359.6,111.5 L360.8,110.0 L361.9,108.5 L363.1,107.0 L364.3,105.5 L365.4,104.0 L366.5,102.5 L367.6,101.0 L368.6,99.5 L369.7,98.0 L370.8,96.5 L371.9,95.0 L373.0,93.5 L374.1,92.0 L375.2,90.5 L376.3,89.0 L377.4,87.5 L378.5,86.0 L379.6,84.5 L380.8,83.0 L381.9,81.5 L383.1,80.0 L384.2,78.5 L385.4,77.0 L386.6,75.5 L387.8,74.0 L389.0,72.5 L390.2,71.0 L391.4,69.5 L392.6,68.0 L393.8,66.5 L395.1,65.0 L396.3,63.5 L397.6,62.0 L398.9,60.5 L400.3,59.0 L401.7,57.5 L403.0,56.0 L404.5,54.5 L406.0,53.0 L407.6,51.5 L409.4,50.0 L411.3,48.5 L413.5,47.0 L416.2,45.5 L420.1,44.0 L425.0,42.5 L430.1,41.0 L436.7,39.5 L445.3,38.0 L456.7,36.5 L474.7,35.0 L514.0,33.5 L548.0,32.7" stroke="#fdb42f"/>
<path d="M156.3,366.0 L156.4,362.0 L157.0,350.0 L158.2,340.0 L160.3,330.0 L164.6,320.0 L175.0,305.5 L183.0,297.5 L190.0,290.5 L195.0,286.0 L198.0,282.8 L207.8,275.0 L214.4,268.4 L225.0,259.5 L236.0,248.0 L247.5,235.0 L256.0,226.5 L267.9,215.0 L268.9,213.7 L269.9,212.5 L270.9,211.3 L271.9,210.1 L272.9,208.8 L273.9,207.6 L274.9,206.4 L275.9,205.1 L276.9,203.8 L277.9,202.5 L278.9,201.1 L279.9,199.8 L280.9,198.4 L281.9,197.1 L282.9,195.8 L283.9,194.5 L284.9,193.1 L285.9,191.9 L286.9,190.6 L287.9,189.3 L288.9,188.1 L289.9,186.9 L290.9,185.7 L291.9,184.5 L292.9,183.3 L293.9,182.1 L294.9,180.9 L295.9,179.7 L296.9,178.5 L297.9,177.3 L298.9,176.2 L299.9,175.1 L300.9,174.0 L301.9,172.9 L302.9,171.9 L303.9,170.9 L304.9,169.9 L305.9,169.0 L306.9,168.0 L307.9,167.2 L308.9,166.3 L309.9,165.5 L310.9,164.6 L311.9,163.8 L312.9,163.1 L313.9,162.3 L314.9,161.5 L315.9,160.8 L316.9,160.0 L317.9,159.2 L318.9,158.5 L319.9,157.7 L320.9,157.0 L321.9,156.2 L322.9,155.4 L323.9,154.7 L324.9,153.9 L325.9,153.2 L326.9,152.4 L327.9,151.6 L328.9,150.7 L329.9,149.9 L330.9,148.9 L331.9,147.9 L332.9,146.9 L333.9,145.8 L334.9,144.6 L335.9,143.4 L336.9,142.1 L337.9,140.8 L338.9,139.4 L339.9,138.1 L340.9,136.7 L341.9,135.3 L342.9,134.0 L343.9,132.6 L344.9,131.2 L345.9,129.8 L346.9,128.4 L347.9,127.0 L348.9,125.6 L349.9,124.2 L350.9,122.8 L351.9,121.5 L352.9,120.1 L353.9,118.8 L354.9,117.4 L355.9,116.1 L356.9,114.8 L357.9,113.5 L358.9,112.2 L359.9,110.9 L360.9,109.6 L361.9,108.3 L362.9,107.0 L363.9,105.7 L364.9,104.4 L365.9,103.1 L366.9,101.7 L367.9,100.4 L368.9,99.1 L369.9,97.7 L370.9,96.4 L371.9,95.0 L372.9,93.6 L373.9,92.3 L374.9,90.9 L375.9,89.6 L376.9,88.2 L377.9,86.9 L378.9,85.5 L379.9,84.2 L380.9,82.9 L381.9,81.6 L382.9,80.3 L383.9,79.0 L384.9,77.7 L385.9,76.4 L386.9,75.2 L387.9,73.9 L388.9,72.7 L389.9,71.4 L390.9,70.2 L391.9,68.9 L392.9,67.7 L393.9,66.5 L394.9,65.3 L395.9,64.1 L396.9,63.0 L397.9,61.8 L398.9,60.7 L399.9,59.6 L400.9,58.5 L401.9,57.4 L402.9,56.4 L403.9,55.3 L404.9,54.4 L405.9,53.4 L406.9,52.5 L407.9,51.6 L408.9,50.7 L409.9,49.9 L410.9,49.2 L411.9,48.4 L412.9,47.8 L413.9,47.1 L414.9,46.6 L415.9,46.0 L416.9,45.5 L417.9,45.1 L418.9,44.6 L419.9,44.3 L420.9,43.9 L421.9,43.5 L422.9,43.2 L423.9,42.9 L424.9,42.6 L425.9,42.3 L426.9,42.0 L427.9,41.7 L428.9,41.4 L429.9,41.1 L430.9,40.9 L431.9,40.6 L432.9,40.4 L433.9,40.2 L434.9,39.9 L435.9,39.7 L436.9,39.5 L437.9,39.3 L438.9,39.1 L439.9,38.9 L440.9,38.8 L441.9,38.6 L442.9,38.4 L443.9,38.3 L444.9,38.1 L445.9,37.9 L446.9,37.8 L447.9,37.6 L448.9,37.5 L449.9,37.4 L450.9,37.2 L451.9,37.1 L452.9,37.0 L453.9,36.8 L454.9,36.7 L455.9,36.6 L456.9,36.5 L457.9,36.4 L458.9,36.3 L459.9,36.2 L460.9,36.1 L461.9,36.0 L462.9,35.9 L463.9,35.8 L464.9,35.7 L465.9,35.6 L466.9,35.5 L467.9,35.5 L468.9,35.4 L469.9,35.3 L470.9,35.3 L471.9,35.2 L472.9,35.1 L473.9,35.1 L474.9,35.0 L475.9,34.9 L476.9,34.9 L477.9,34.8 L478.9,34.8 L479.9,34.7 L480.9,34.7 L481.9,34.6 L482.9,34.6 L483.9,34.5 L484.9,34.5 L485.9,34.4 L486.9,34.4 L487.9,34.4 L488.9,34.3 L489.9,34.3 L490.9,34.2 L491.9,34.2 L492.9,34.2 L493.9,34.1 L494.9,34.1 L495.9,34.0 L496.9,34.0 L497.9,34.0 L498.9,33.9 L499.9,33.9 L500.9,33.9 L501.9,33.8 L502.9,33.8 L503.9,33.8 L504.9,33.7 L505.9,33.7 L506.9,33.7 L507.9,33.7 L508.9,33.6 L509.9,33.6 L510.9,33.6 L511.9,33.6 L512.9,33.5 L513.9,33.5 L514.9,33.5 L515.9,33.4 L516.9,33.4 L517.9,33.4 L518.9,33.4 L519.9,33.4 L520.9,33.3 L521.9,33.3 L522.9,33.3 L523.9,33.3 L524.9,33.3 L525.9,33.2 L526.9,33.2 L527.9,33.2 L528.9,33.2 L529.9,33.2 L530.9,33.1 L531.9,33.1 L532.9,33.1 L533.9,33.1 L534.9,33.1 L535.9,33.1 L536.9,33.0 L537.9,33.0 L538.9,33.0 L539.9,33.0 L540.9,33.0 L541.9,33.0 L542.9,32.9 L543.9,32.9 L544.9,32.9 L545.9,32.9 L546.9,32.9 L547.9,32.9 L548.9,32.8 L549.9,32.8 L550.9,32.8 L551.9,32.8 L552.9,32.8 L553.9,32.8 L554.9,32.7 L555.9,32.7 L556.9,32.7 L557.9,32.7 L558.9,32.7 L559.9,32.7 L560.9,32.7 L561.9,32.7 L562.9,32.7 L563.9,32.7 L564.9,32.7 L565.9,32.7 L566.9,32.7 L567.9,32.7 L568.9,32.7 L569.9,32.7 L570.9,32.7 L571.9,32.7 L572.9,32.7 L573.9,32.7 L574.9,32.7 L575.9,32.7 L576.9,32.7 L577.9,32.7 L578.9,32.7 L579.9,32.7 L580.9,32.7 L581.9,32.7 L582.9,32.7 L583.9,32.7 L584.9,32.7 L585.9,32.7 L586.9,32.7 L587.9,32.7 L588.9,32.7 L589.9,32.7 L590.9,32.7 L591.9,32.7 L592.9,32.7 L593.9,32.7 L594.0,32.7" stroke="#fbd524"/>
</g>
<rect x="128.3" y="17.0" width="464.40000000000003" height="346.7" fill="none" stroke="#bcbcbc" stroke-width="1.65"/>
<text y="43.25" font-size="29.8"><tspan x="81.45">10</tspan><tspan x="109.90" dy="-10.6" font-size="20.8">0</tspan></text>
<text y="122.86" font-size="29.8"><tspan x="67.25">10</tspan><tspan x="96.60" dy="-9.2" font-size="20.8" textLength="14.4" lengthAdjust="spacingAndGlyphs">−</tspan><tspan x="110.50" dy="-1.4" font-size="20.8">2</tspan></text>
<text y="202.47" font-size="29.8"><tspan x="67.25">10</tspan><tspan x="96.60" dy="-9.2" font-size="20.8" textLength="14.4" lengthAdjust="spacingAndGlyphs">−</tspan><tspan x="110.50" dy="-1.4" font-size="20.8">4</tspan></text>
<text y="282.09" font-size="29.8"><tspan x="67.25">10</tspan><tspan x="96.60" dy="-9.2" font-size="20.8" textLength="14.4" lengthAdjust="spacingAndGlyphs">−</tspan><tspan x="110.50" dy="-1.4" font-size="20.8">6</tspan></text>
<text y="361.70" font-size="29.8"><tspan x="67.25">10</tspan><tspan x="96.60" dy="-9.2" font-size="20.8" textLength="14.4" lengthAdjust="spacingAndGlyphs">−</tspan><tspan x="110.50" dy="-1.4" font-size="20.8">8</tspan></text>
<text y="390.70" font-size="29.8"><tspan x="163.55">10</tspan><tspan x="192.90" dy="-10.6" font-size="20.8">2</tspan></text>
<text y="390.70" font-size="29.8"><tspan x="436.65">10</tspan><tspan x="466.00" dy="-10.6" font-size="20.8">3</tspan></text>
<text y="428.4" font-size="33.4"><tspan x="289.9">Distance</tspan> <tspan x="415.4" class="it" textLength="14.0" lengthAdjust="spacingAndGlyphs">ε</tspan></text>
<text transform="translate(48.8,225) rotate(-90)" y="0"><tspan x="0" font-size="46" class="it" textLength="25.85" lengthAdjust="spacingAndGlyphs">S</tspan><tspan x="26.8" dy="-0.6" font-size="46.5" textLength="11.92" lengthAdjust="spacingAndGlyphs">(</tspan><tspan x="42" dy="0.6" font-size="41" class="it">ε</tspan><tspan x="60.85" dy="-0.6" font-size="46.5" textLength="11.92" lengthAdjust="spacingAndGlyphs">)</tspan></text>
<line x1="423.4" y1="90.6" x2="451" y2="90.6" stroke="#0d0887" stroke-width="4.2"/><text y="100.6" font-size="28.2"><tspan x="459.8">c</tspan> <tspan x="481.2" dy="2.6" textLength="18.8" lengthAdjust="spacingAndGlyphs">=</tspan> <tspan x="507.4" dy="-2.6" font-size="28.9">1</tspan></text>
<line x1="423.4" y1="128.9" x2="451" y2="128.9" stroke="#3a049a" stroke-width="4.2"/><text y="138.9" font-size="28.2"><tspan x="459.8">c</tspan> <tspan x="481.2" dy="2.6" textLength="18.8" lengthAdjust="spacingAndGlyphs">=</tspan> <tspan x="507.4" dy="-2.6" font-size="28.9">2</tspan></text>
<line x1="423.4" y1="167.3" x2="451" y2="167.3" stroke="#5c01a6" stroke-width="4.2"/><text y="177.3" font-size="28.2"><tspan x="459.8">c</tspan> <tspan x="481.2" dy="2.6" textLength="18.8" lengthAdjust="spacingAndGlyphs">=</tspan> <tspan x="507.4" dy="-2.6" font-size="28.9">4</tspan></text>
<line x1="423.4" y1="205.6" x2="451" y2="205.6" stroke="#b52f8c" stroke-width="4.2"/><text y="215.6" font-size="28.2"><tspan x="459.8">c</tspan> <tspan x="481.2" dy="2.6" textLength="18.8" lengthAdjust="spacingAndGlyphs">=</tspan> <tspan x="507.4" dy="-2.6" font-size="28.9">32</tspan></text>
<line x1="423.4" y1="243.9" x2="451" y2="243.9" stroke="#de5f65" stroke-width="4.2"/><text y="253.9" font-size="28.2"><tspan x="459.8">c</tspan> <tspan x="481.2" dy="2.6" textLength="18.8" lengthAdjust="spacingAndGlyphs">=</tspan> <tspan x="507.4" dy="-2.6" font-size="28.9">128</tspan></text>
<line x1="423.4" y1="282.2" x2="451" y2="282.2" stroke="#f89540" stroke-width="4.2"/><text y="292.2" font-size="28.2"><tspan x="459.8">c</tspan> <tspan x="481.2" dy="2.6" textLength="18.8" lengthAdjust="spacingAndGlyphs">=</tspan> <tspan x="507.4" dy="-2.6" font-size="28.9">512</tspan></text>
<line x1="423.4" y1="320.6" x2="451" y2="320.6" stroke="#fbd524" stroke-width="4.2"/><text y="330.6" font-size="28.2"><tspan x="459.8">c</tspan> <tspan x="481.2" dy="2.6" textLength="18.8" lengthAdjust="spacingAndGlyphs">=</tspan> <tspan x="507.4" dy="-2.6" font-size="28.9">2048</tspan></text>
</svg></body></html>
